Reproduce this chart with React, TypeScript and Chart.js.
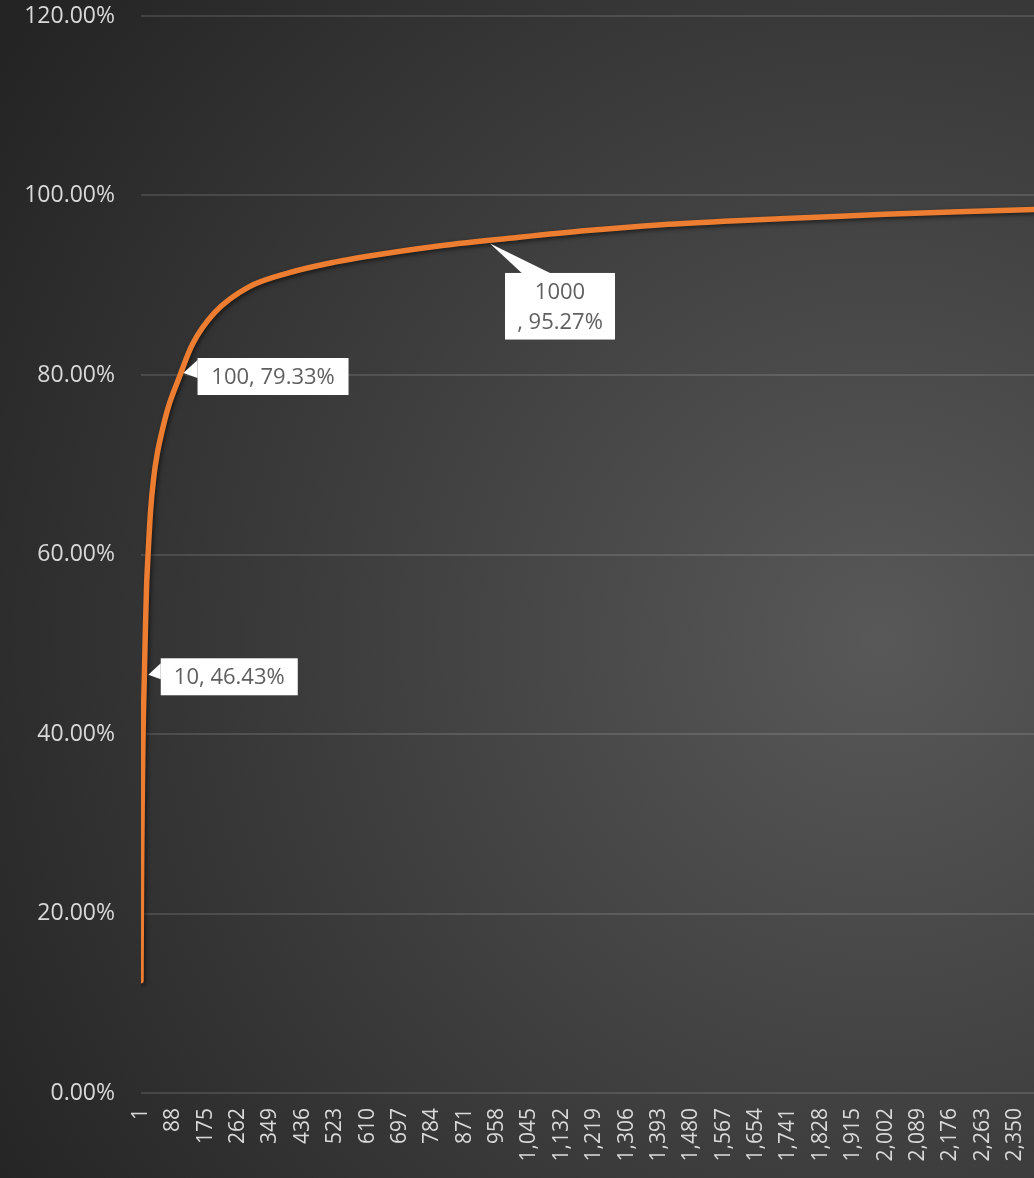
import React, { useEffect, useRef } from "react";
import { Chart, registerables } from "chart.js";

Chart.register(...registerables);

// ---- data ----
const RANKS: number[] = [
  1, 2, 3, 4, 5, 6, 7, 8, 9, 10, 13, 16, 20, 27, 35, 45, 58, 75, 100, 139, 200,
  290, 400, 525, 606, 786, 1000, 1200, 1400, 1600, 1800, 2000, 2200, 2401,
];
const CUM_SHARE: number[] = [
  12.5, 20.5, 26.5, 31.0, 35.0, 38.3, 41.0, 43.0, 44.8, 46.43, 52.0, 56.5, 60.0,
  65.0, 68.5, 71.3, 73.8, 76.5, 79.33, 83.4, 87.0, 89.8, 91.4, 92.6, 93.2, 94.3,
  95.27, 96.1, 96.75, 97.2, 97.55, 97.9, 98.2, 98.45,
];
const X_TICKS: number[] = [
  1, 88, 175, 262, 349, 436, 523, 610, 697, 784, 871, 958, 1045, 1132, 1219,
  1306, 1393, 1480, 1567, 1654, 1741, 1828, 1915, 2002, 2089, 2176, 2263, 2350,
];
const Y_TICKS: number[] = [0, 20, 40, 60, 80, 100, 120];
const LABELLED_RANKS: number[] = [10, 100, 1000];

// ---- callout layout (relative to the labelled point) ----
const CALLOUTS: Record<number, any> = {
  10: { bx: 16.4, by: -18, w: 137, h: 37, tip: [4, -1.5], base: [[0, 5], [0, 21]], lines: (r: number, v: number) => [`${r}, ${v.toFixed(2)}%`] },
  100: { bx: 19.7, by: -23, w: 151, h: 37, tip: [5.5, -8], base: [[0, 2], [0, 20]], lines: (r: number, v: number) => [`${r}, ${v.toFixed(2)}%`] },
  1000: { bx: -7.7, by: 35, w: 110, h: 66.6, tip: [-22.7, 5.5], base: [[16.7, 0], [45, 0]], lines: (r: number, v: number) => [`${r}`, `, ${v.toFixed(2)}%`] },
};

const FONT = "'Open Sans', 'Noto Sans', sans-serif";

export default function App() {
  const ref = useRef<HTMLCanvasElement | null>(null);

  useEffect(() => {
    const canvas = ref.current;
    if (!canvas) return;

    const bgPlugin = {
      id: "bg",
      beforeDraw(chart: any) {
        const { ctx, width, height } = chart;
        ctx.save();
        const g = ctx.createRadialGradient(880, 640, 0, 880, 640, 1050);
        g.addColorStop(0, "#585858");
        g.addColorStop(1, "#242424");
        ctx.fillStyle = g;
        ctx.fillRect(0, 0, width, height);
        ctx.restore();
      },
    };

    const shadowPlugin = {
      id: "lineShadow",
      beforeDatasetDraw(chart: any) {
        const ctx = chart.ctx;
        ctx.save();
        ctx.shadowColor = "rgba(0,0,0,0.55)";
        ctx.shadowBlur = 4;
        ctx.shadowOffsetX = 1.5;
        ctx.shadowOffsetY = 2;
      },
      afterDatasetDraw(chart: any) {
        chart.ctx.restore();
      },
    };

    const calloutPlugin = {
      id: "callouts",
      afterDatasetsDraw(chart: any) {
        const ctx = chart.ctx;
        const meta = chart.getDatasetMeta(0);
        ctx.save();
        LABELLED_RANKS.forEach((rank) => {
          const idx = RANKS.indexOf(rank);
          if (idx < 0) return;
          const el = meta.data[idx];
          const c = CALLOUTS[rank];
          const px = el.x;
          const py = el.y;
          const bx = px + c.bx;
          const by = py + c.by;
          ctx.fillStyle = "#ffffff";
          ctx.beginPath();
          ctx.moveTo(px + c.tip[0], py + c.tip[1]);
          ctx.lineTo(bx + c.base[0][0], by + c.base[0][1]);
          ctx.lineTo(bx + c.base[1][0], by + c.base[1][1]);
          ctx.closePath();
          ctx.fill();
          ctx.fillRect(bx, by, c.w, c.h);
          const lines: string[] = c.lines(rank, CUM_SHARE[idx]);
          ctx.fillStyle = "#5f5f5f";
          ctx.font = `22px ${FONT}`;
          ctx.textAlign = "center";
          ctx.textBaseline = "middle";
          const lh = 30;
          const cy = by + c.h / 2 - ((lines.length - 1) * lh) / 2;
          lines.forEach((t, i) => ctx.fillText(t, bx + c.w / 2, cy + i * lh + 1));
        });
        ctx.restore();
      },
    };

    const chart = new Chart(canvas, {
      type: "line",
      data: {
        datasets: [
          {
            data: RANKS.map((r, i) => ({ x: r, y: CUM_SHARE[i] })),
            borderColor: "#ED7D31",
            borderWidth: 5.5,
            pointRadius: 0,
            cubicInterpolationMode: "monotone",
            borderCapStyle: "round",
            fill: false,
          },
        ],
      },
      options: {
        animation: false,
        responsive: false,
        devicePixelRatio: 1,
        layout: { padding: { top: 16, right: 0, left: 0, bottom: 0 } },
        plugins: {
          legend: { display: false },
          tooltip: { enabled: false },
        },
        scales: {
          x: {
            type: "linear",
            min: 1,
            max: 2401,
            afterBuildTicks(scale: any) {
              scale.ticks = X_TICKS.map((v) => ({ value: v }));
            },
            afterFit(scale: any) {
              scale.height = 85;
              scale.paddingLeft = 0;
              scale.paddingRight = 0;
              scale.paddingTop = 0;
              scale.paddingBottom = 0;
            },
            grid: { display: false, drawTicks: false },
            border: { display: false },
            ticks: {
              autoSkip: false,
              minRotation: 90,
              maxRotation: 90,
              padding: 15,
              color: "#d9d9d9",
              font: { size: 21, family: FONT },
              callback: (v: any) => Number(v).toLocaleString("en-US"),
            },
          },
          y: {
            min: 0,
            max: 120,
            afterBuildTicks(scale: any) {
              scale.ticks = Y_TICKS.map((v) => ({ value: v }));
            },
            afterFit(scale: any) {
              scale.width = 141;
              scale.paddingLeft = 0;
              scale.paddingRight = 0;
              scale.paddingTop = 0;
              scale.paddingBottom = 0;
            },
            grid: { color: "rgba(255,255,255,0.12)", lineWidth: 2, drawTicks: false },
            border: { display: false },
            ticks: {
              padding: 26,
              color: "#d9d9d9",
              font: { size: 23, family: FONT },
              callback: (v: any) => `${Number(v).toFixed(2)}%`,
            },
          },
        },
      },
      plugins: [bgPlugin, shadowPlugin, calloutPlugin],
    } as any);

    return () => chart.destroy();
  }, []);

  return (
    <div style={{ position: "fixed", left: 0, top: 0, width: 1034, height: 1178, overflow: "hidden", background: "#2b2b2b" }}>
      <canvas ref={ref} width={1034} height={1178} style={{ display: "block", width: 1034, height: 1178 }} />
    </div>
  );
}
